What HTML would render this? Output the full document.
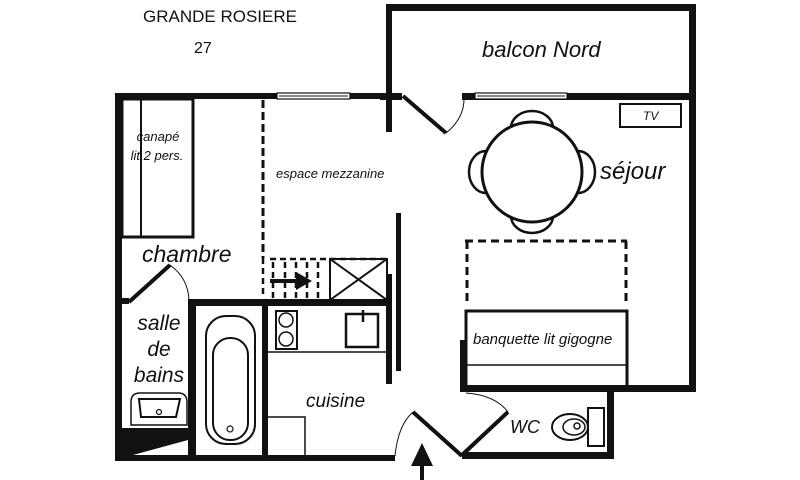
<!DOCTYPE html>
<html><head><meta charset="utf-8"><style>
html,body{margin:0;padding:0;background:#fff;}
svg{display:block;}
text{font-family:"Liberation Sans",sans-serif;fill:#111;}
.i{font-style:italic;}
</style></head><body>
<svg width="800" height="480" viewBox="0 0 800 480" xmlns="http://www.w3.org/2000/svg">
<text x="143" y="22" font-size="17">GRANDE ROSIERE</text>
<text x="194" y="53" font-size="16">27</text>

<g fill="#111">
<rect x="115" y="93" width="278" height="6"/>
<rect x="115" y="93" width="7" height="368"/>
<rect x="115" y="455" width="280" height="6"/>
<rect x="386" y="4" width="6" height="128"/>
<rect x="386" y="4" width="310" height="7"/>
<rect x="689" y="4" width="7" height="388"/>
<rect x="380" y="93" width="22" height="7"/>
<rect x="462" y="93" width="234" height="7"/>
<rect x="396" y="213" width="5" height="158"/>
<rect x="386" y="274" width="6" height="110"/>
<rect x="188" y="299" width="204" height="7"/>
<rect x="188" y="299" width="8" height="160"/>
<rect x="262" y="299" width="6" height="160"/>
<rect x="115" y="298" width="14" height="6"/>
<rect x="460" y="340" width="6" height="52"/>
<rect x="460" y="385" width="236" height="7"/>
<rect x="607" y="385" width="7" height="74"/>
<rect x="462" y="452" width="152" height="7"/>
<polygon points="122,428 188,428 188,440 122,458"/>
</g>

<g fill="#fff" stroke="#111" stroke-width="1.2">
<rect x="277" y="93" width="73" height="6"/>
<rect x="475" y="93" width="92" height="6"/>
</g>
<g stroke="#111" stroke-width="1"><line x1="279" y1="96" x2="348" y2="96"/><line x1="477" y1="96" x2="565" y2="96"/></g>

<line x1="403" y1="96" x2="446" y2="133" stroke="#111" stroke-width="4"/>
<path d="M446,133 Q465,118 464,96" fill="none" stroke="#111" stroke-width="1"/>

<rect x="620" y="104" width="61" height="23" fill="none" stroke="#111" stroke-width="2"/>
<text x="643" y="120" font-size="12" class="i">TV</text>

<g fill="#fff" stroke="#111" stroke-width="2.5">
<ellipse cx="532" cy="128" rx="21" ry="17"/>
<ellipse cx="532" cy="216" rx="21" ry="17"/>
<ellipse cx="486" cy="172" rx="17" ry="21"/>
<ellipse cx="578" cy="172" rx="17" ry="21"/>
<circle cx="532" cy="172" r="50" stroke-width="3"/>
</g>
<text x="600" y="179" font-size="24" class="i">séjour</text>
<text x="482" y="57" font-size="22" class="i">balcon Nord</text>

<g stroke="#111" stroke-width="3" stroke-dasharray="8,5" fill="none">
<line x1="465" y1="241" x2="627" y2="241"/>
<line x1="467" y1="241" x2="467" y2="305"/>
<line x1="626" y1="241" x2="626" y2="305"/>
</g>
<rect x="466" y="311" width="161" height="76" fill="none" stroke="#111" stroke-width="3"/>
<line x1="466" y1="365" x2="627" y2="365" stroke="#111" stroke-width="1.5"/>
<text x="473" y="344" font-size="15" class="i">banquette lit gigogne</text>

<line x1="462" y1="455" x2="508" y2="412" stroke="#111" stroke-width="4"/>
<path d="M466,393 Q495,395 508,412" fill="none" stroke="#111" stroke-width="1"/>
<text x="510" y="433" font-size="18" class="i">WC</text>
<rect x="588" y="408" width="16" height="38" fill="#fff" stroke="#111" stroke-width="2"/>
<ellipse cx="570" cy="427" rx="18" ry="13" fill="#fff" stroke="#111" stroke-width="2"/>
<ellipse cx="574" cy="427" rx="11" ry="8" fill="none" stroke="#111" stroke-width="1.5"/>
<circle cx="577" cy="426" r="3" fill="none" stroke="#111" stroke-width="1.5"/>

<line x1="413" y1="412" x2="462" y2="456" stroke="#111" stroke-width="4"/>
<path d="M395,456 Q398,425 413,412" fill="none" stroke="#111" stroke-width="1"/>
<line x1="422" y1="480" x2="422" y2="460" stroke="#111" stroke-width="4"/>
<polygon points="422,443 411,466 433,466" fill="#111"/>

<rect x="122" y="99" width="71" height="138" fill="none" stroke="#111" stroke-width="3"/>
<line x1="141" y1="99" x2="141" y2="237" stroke="#111" stroke-width="2"/>
<text x="158" y="141" font-size="13" class="i" text-anchor="middle">canapé</text>
<text x="157" y="160" font-size="13" class="i" text-anchor="middle">lit 2 pers.</text>
<text x="142" y="262" font-size="23" class="i">chambre</text>
<line x1="129" y1="302" x2="170" y2="265" stroke="#111" stroke-width="4"/>
<path d="M170,265 Q188,278 189,300" fill="none" stroke="#111" stroke-width="1"/>

<line x1="263" y1="100" x2="263" y2="258" stroke="#111" stroke-width="3" stroke-dasharray="8,4"/>
<text x="276" y="178" font-size="13" class="i">espace mezzanine</text>
<g stroke="#111" stroke-width="2.5" stroke-dasharray="6,4">
<line x1="263" y1="258" x2="263" y2="298"/>
<line x1="273" y1="262" x2="273" y2="298"/>
<line x1="285" y1="262" x2="285" y2="298"/>
<line x1="296" y1="262" x2="296" y2="298"/>
<line x1="307" y1="262" x2="307" y2="298"/>
<line x1="318" y1="262" x2="318" y2="298"/>
<line x1="270" y1="259" x2="390" y2="259"/>
</g>
<line x1="270" y1="281" x2="298" y2="281" stroke="#111" stroke-width="4"/>
<polygon points="312,281 296,272 296,290" fill="#111"/>
<rect x="330" y="259" width="57" height="41" fill="none" stroke="#111" stroke-width="2"/>
<line x1="330" y1="300" x2="387" y2="259" stroke="#111" stroke-width="2"/>
<line x1="330" y1="259" x2="387" y2="300" stroke="#111" stroke-width="2"/>

<rect x="276" y="311" width="21" height="38" fill="none" stroke="#111" stroke-width="2"/>
<circle cx="286" cy="320" r="7" fill="none" stroke="#111" stroke-width="1.5"/>
<circle cx="286" cy="339" r="7" fill="none" stroke="#111" stroke-width="1.5"/>
<rect x="346" y="314" width="32" height="33" fill="none" stroke="#111" stroke-width="2.5"/>
<line x1="363" y1="310" x2="363" y2="322" stroke="#111" stroke-width="2.5"/>
<line x1="268" y1="352" x2="388" y2="352" stroke="#111" stroke-width="1.5"/>
<rect x="267" y="417" width="38" height="40" fill="none" stroke="#111" stroke-width="1.5"/>
<text x="306" y="407" font-size="19" class="i">cuisine</text>

<rect x="206" y="316" width="49" height="128" rx="20" fill="none" stroke="#111" stroke-width="2"/>
<rect x="213" y="338" width="35" height="102" rx="17" fill="none" stroke="#111" stroke-width="2"/>
<circle cx="230" cy="429" r="3" fill="none" stroke="#111" stroke-width="1.2"/>
<text x="159" y="330" font-size="21" class="i" text-anchor="middle">salle</text>
<text x="159" y="356" font-size="21" class="i" text-anchor="middle">de</text>
<text x="159" y="382" font-size="21" class="i" text-anchor="middle">bains</text>
<path d="M131,425 L131,402 Q131,393 140,393 L178,393 Q187,393 187,402 L187,425 Z" fill="#fff" stroke="#111" stroke-width="1.5"/>
<path d="M139,399 L180,399 L176,417 L141,417 Z" fill="none" stroke="#111" stroke-width="2"/>
<circle cx="159" cy="412" r="2.5" fill="none" stroke="#111" stroke-width="1.2"/>
</svg>
</body></html>
